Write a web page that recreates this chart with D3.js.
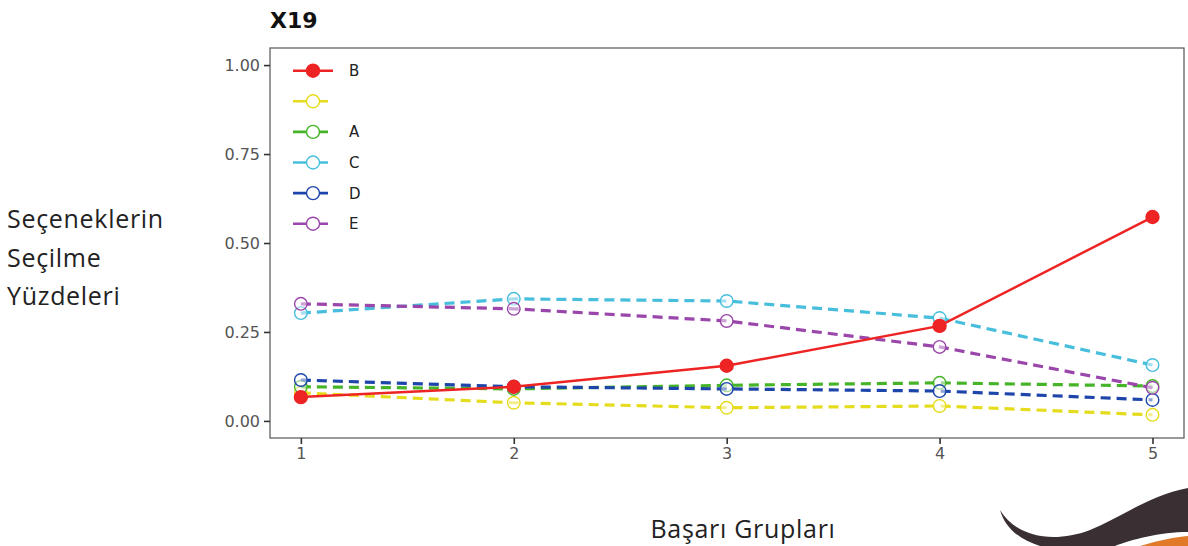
<!DOCTYPE html>
<html><head><meta charset="utf-8">
<script src="https://cdn.jsdelivr.net/npm/d3@7"></script>
<style>body{margin:0;background:#fff}svg{display:block}</style>
</head><body>
<svg id="c" width="1188" height="546"></svg>
<script>
const groups = [1, 2, 3, 4, 5];
const seriesNames = ["B", "", "A", "C", "D", "E"];
const valB = [0.067, 0.096, 0.155, 0.267, 0.573];
const valBlank = [0.079, 0.051, 0.037, 0.042, 0.017];
const valA = [0.096, 0.090, 0.100, 0.107, 0.098];
const valC = [0.303, 0.343, 0.337, 0.289, 0.157];
const valD = [0.115, 0.096, 0.090, 0.084, 0.059];
const valE = [0.329, 0.315, 0.281, 0.208, 0.093];
const yTicks = [0, 0.25, 0.5, 0.75, 1.0];
const title = "X19";
const yLabel = ["Seçeneklerin", "Seçilme", "Yüzdeleri"];
const xLabel = "Başarı Grupları";

const series = [
  {name: seriesNames[0], vals: valB, color: "#ee2424", dashed: false, filled: true},
  {name: seriesNames[1], vals: valBlank, color: "#e6dc1e", dashed: true, filled: false},
  {name: seriesNames[2], vals: valA, color: "#46b428", dashed: true, filled: false},
  {name: seriesNames[3], vals: valC, color: "#46bedc", dashed: true, filled: false},
  {name: seriesNames[4], vals: valD, color: "#1e46aa", dashed: true, filled: false},
  {name: seriesNames[5], vals: valE, color: "#9a46aa", dashed: true, filled: false}
];

const svg = d3.select("#c");
const L = 270, R = 1184, T = 48, B = 438;
const x = d3.scaleLinear().domain([0.855, 5.148]).range([L, R]);
const y = d3.scaleLinear().domain([-0.048, 1.048]).range([B, T]);

// logo swoosh bottom right
svg.append("path").attr("d","M1000,510 C1015,535 1050,545 1090,530 C1120,518 1150,495 1188,488 L1188,532 C1160,532 1130,540 1115,546 L1040,546 C1020,540 1005,528 1000,510 Z").attr("fill","#3a3034");
svg.append("path").attr("d","M1140,546 C1160,540 1175,537 1188,536 L1188,546 Z").attr("fill","#e07a28");

svg.append("rect").attr("x", L).attr("y", T).attr("width", R - L).attr("height", B - T)
  .attr("fill", "#fff").attr("stroke", "#555").attr("stroke-width", 1.2);

const yAxis = svg.append("g").attr("transform", `translate(${L},0)`)
  .call(d3.axisLeft(y).tickValues(yTicks).tickFormat(d3.format(".2f")).tickSize(6).tickPadding(4));
const xAxis = svg.append("g").attr("transform", `translate(0,${B})`)
  .call(d3.axisBottom(x).tickValues(groups).tickFormat(d3.format("d")).tickSize(6).tickPadding(4));
[yAxis, xAxis].forEach(a => {
  a.select(".domain").remove();
  a.selectAll("line").attr("stroke", "#333").attr("stroke-width", 1.6);
  a.selectAll("text").attr("fill", "#555").attr("font-family", "DejaVu Sans").attr("font-size", 16);
});

const line = d3.line().x((d, i) => x(groups[i])).y(d => y(d)).curve(d3.curveLinear);

const order = [1, 2, 3, 4, 5, 0];
order.forEach(k => {
  const s = series[k];
  const g = svg.append("g");
  g.append("path").attr("d", line(s.vals)).attr("fill", "none").attr("stroke", s.color)
    .attr("stroke-width", s.dashed ? 3.2 : 2.5).attr("stroke-dasharray", s.dashed ? "10,6" : null);
  g.selectAll("circle").data(s.vals).join("circle")
    .attr("cx", (d, i) => x(groups[i])).attr("cy", d => y(d))
    .attr("r", s.filled ? 6.5 : 6.3)
    .attr("fill", s.filled ? s.color : "#fff").attr("fill-opacity", s.filled ? 1 : 0.5)
    .attr("stroke", s.color).attr("stroke-width", 1.4);
});

// legend
const lg = svg.append("g");
series.forEach((s, i) => {
  const yy = 70.7 + i * 30.6;
  lg.append("line").attr("x1", 293).attr("x2", s.filled ? 333 : 328).attr("y1", yy).attr("y2", yy)
    .attr("stroke", s.color).attr("stroke-width", 2.6);
  lg.append("circle").attr("cx", 313).attr("cy", yy).attr("r", 6.5)
    .attr("fill", s.filled ? s.color : "#fff").attr("stroke", s.color).attr("stroke-width", 1.4);
  lg.append("text").attr("x", 349).attr("y", yy + 5.5).text(s.name)
    .attr("font-family", "DejaVu Sans").attr("font-size", 15).attr("fill", "#222");
});

svg.append("text").attr("x", 270).attr("y", 28).text(title)
  .attr("font-family", "DejaVu Sans").attr("font-weight", "bold").attr("font-size", 22).attr("fill", "#111");

const yb = [228, 267, 305];
yLabel.forEach((t, i) => {
  svg.append("text").attr("x", 7).attr("y", yb[i]).text(t)
    .attr("font-family", "Open Sans").attr("font-size", 25).attr("letter-spacing", 0.7).attr("fill", "#222");
});
svg.append("text").attr("x", 743).attr("y", 538).attr("text-anchor", "middle").text(xLabel)
  .attr("font-family", "Open Sans").attr("font-size", 25).attr("letter-spacing", 0.7).attr("fill", "#222");
</script>
</body></html>
